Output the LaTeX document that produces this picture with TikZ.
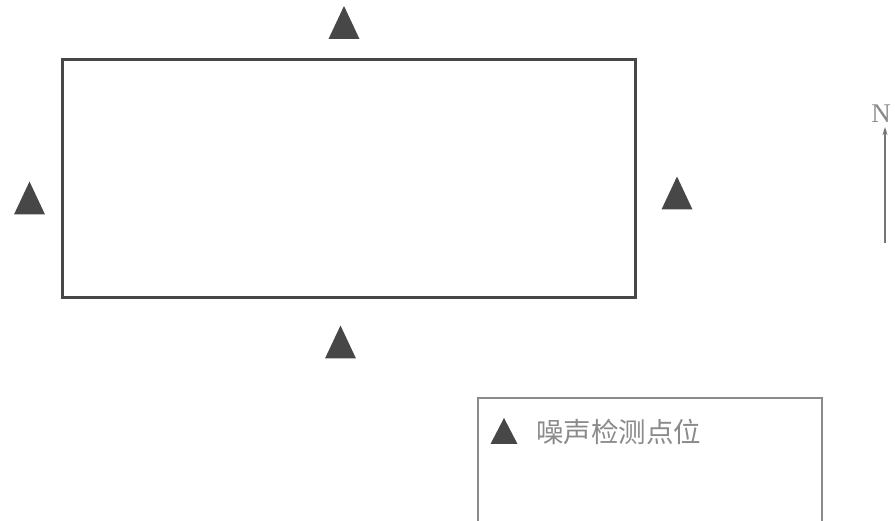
\documentclass[tikz,border=0pt]{standalone}
\usepackage{fontspec}
\newfontfamily\cjk{Noto Sans CJK SC}
\setmainfont{Liberation Serif}
\usetikzlibrary{arrows.meta,calc}
\definecolor{ink}{HTML}{474747}
\definecolor{lightink}{HTML}{8A8A8A}
\tikzset{
  site/.style={fill=ink, draw=none},
  building/.style={draw=ink, line width=3pt},
  legendbox/.style={draw=lightink, line width=1.1pt},
}
\newcommand{\marker}[2]{%
  \coordinate (#2) at #1;
  \fill[site] ($(#2)+(0,-16.5)$) -- ($(#2)+(15.5,16.5)$) -- ($(#2)+(-15.5,16.5)$) -- cycle;}
\begin{document}
\begin{tikzpicture}[x=1pt,y=-1pt]
\useasboundingbox (0,0) rectangle (895,521);
% building
\node[building, minimum width=573pt, minimum height=238pt, inner sep=0pt] (bldg) at (348.5,179) {};
% markers
\marker{(344,22.5)}{tN}
\marker{(29.5,198)}{tW}
\marker{(677,193)}{tE}
\marker{(340.5,342)}{tS}
% north arrow
\node[text=lightink, font=\fontsize{27}{29}\selectfont, inner sep=0pt] (north) at (881,114) {N};
\coordinate (arrbot) at (885,243);
\coordinate (arrtop) at (885,127);
\draw[lightink!85!black, line width=1.4pt, -{Stealth[length=8pt,width=5pt]}] (arrbot) -- (arrtop);
% legend
\coordinate (lgBL) at (478,530);
\coordinate (lgTL) at (478,398);
\coordinate (lgTR) at (822,398);
\coordinate (lgBR) at (822,530);
\draw[legendbox] (lgBL) -- (lgTL) -- (lgTR) -- (lgBR);
\coordinate (lgm) at (504,431);
\fill[site] ($(lgm)+(0,-13)$) -- ($(lgm)+(13.5,13)$) -- ($(lgm)+(-13.5,13)$) -- cycle;
\node[anchor=west, text=lightink, font=\cjk\fontsize{27.5}{29}\selectfont, inner sep=0pt] (lgtext) at (536,432) {噪声检测点位};
\end{tikzpicture}
\end{document}
